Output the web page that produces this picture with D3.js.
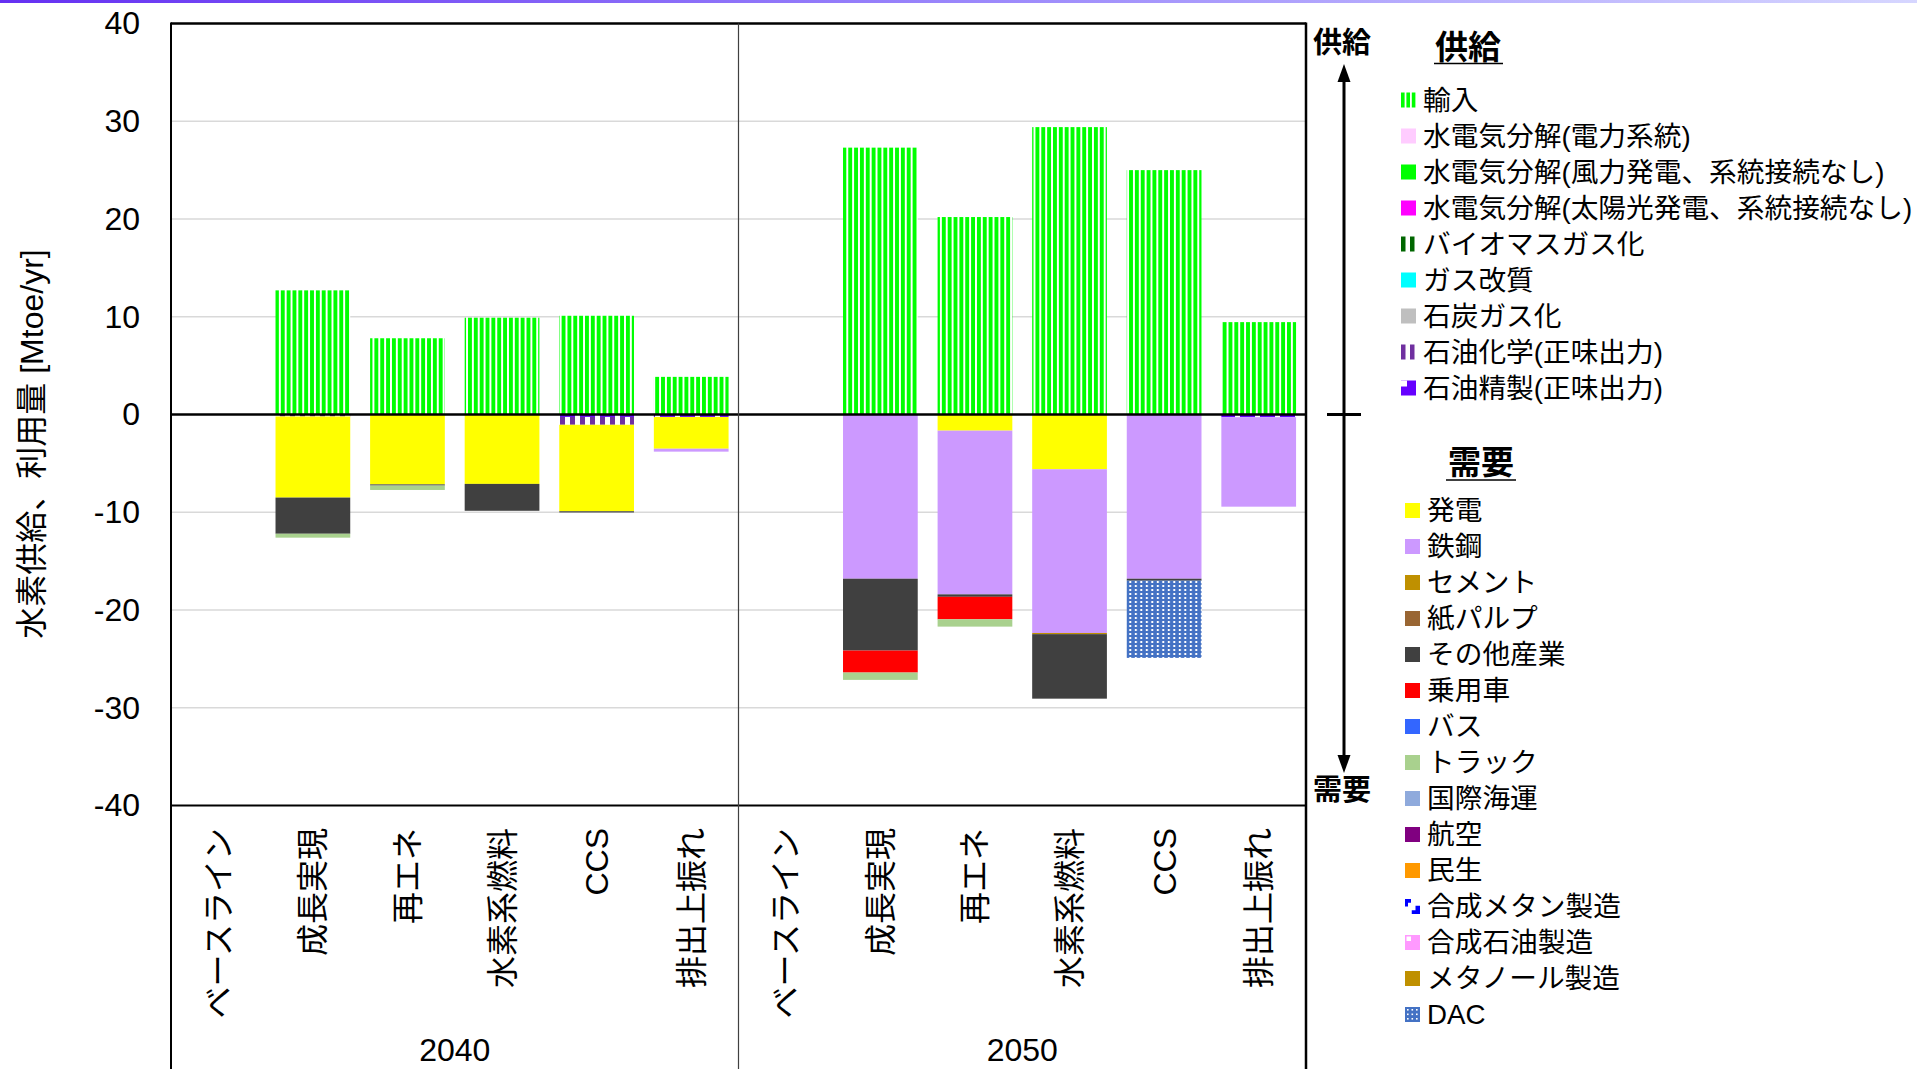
<!DOCTYPE html>
<html><head><meta charset="utf-8">
<script src="https://cdn.jsdelivr.net/npm/d3@7"></script>
<style>
html,body{margin:0;padding:0;background:#fff;}
svg{display:block;}
text{font-family:"Liberation Sans",Arial,"Noto Sans CJK JP",sans-serif;fill:#000;}
</style></head><body>
<svg id="chart" width="1917" height="1069"></svg>
<script>
// ---------- DATA ----------
const years = ["2040", "2050"];
const scenarios = ["ベースライン", "成長実現", "再エネ", "水素系燃料", "CCS", "排出上振れ"];
const yTicks = [40, 30, 20, 10, 0, -10, -20, -30, -40];

const supplyKeys = ["imports","elecGrid","elecWind","elecSolar","bioGas","gasReform","coalGas","petroChem","petroRefine"];
const supplyLabels = ["輸入","水電気分解(電力系統)","水電気分解(風力発電、系統接続なし)","水電気分解(太陽光発電、系統接続なし)","バイオマスガス化","ガス改質","石炭ガス化","石油化学(正味出力)","石油精製(正味出力)"];
const demandKeys = ["power","steel","cement","paper","otherInd","car","bus","truck","shipping","aviation","residential","synMethane","synOil","methanol","dac"];
const demandLabels = ["発電","鉄鋼","セメント","紙パルプ","その他産業","乗用車","バス","トラック","国際海運","航空","民生","合成メタン製造","合成石油製造","メタノール製造","DAC"];

// 12 columns: 2040 (6 scenarios), then 2050 (6 scenarios)
const imports     = [0, 12.7, 7.8, 9.9, 10.1, 3.85,   0, 27.3, 20.2, 29.4, 25.0, 9.45];
const elecGrid    = [0, 0, 0, 0, 0, 0,   0, 0, 0, 0, 0, 0];
const elecWind    = [0, 0, 0, 0, 0, 0,   0, 0, 0, 0, 0, 0];
const elecSolar   = [0, 0, 0, 0, 0, 0,   0, 0, 0, 0, 0, 0];
const bioGas      = [0, 0, 0, 0, 0, 0,   0, 0, 0, 0, 0, 0];
const gasReform   = [0, 0, 0, 0, 0, 0,   0, 0, 0, 0, 0, 0];
const coalGas     = [0, 0, 0, 0, 0, 0,   0, 0, 0, 0, 0, 0];
const petroChem   = [0, -0.2, 0, 0, -0.8, 0,   0, 0, 0, 0, 0, 0];
const petroRefine = [0, 0, 0, 0, -0.25, -0.25,   0, 0, 0, 0, 0, -0.28];
const power       = [0, -8.3, -7.15, -7.1, -8.85, -3.25,   0, 0, -1.65, -5.6, 0, 0];
const steel       = [0, 0, 0, 0, 0, -0.3,   0, -16.8, -16.75, -16.75, -16.8, -9.15];
const cement      = [0, 0, 0, 0, 0, 0,   0, 0, 0, -0.12, 0, 0];
const paper       = [0, 0, 0, 0, 0, 0,   0, 0, 0, 0, 0, 0];
const otherInd    = [0, -3.7, -0.12, -2.75, -0.12, 0,   0, -7.35, -0.25, -6.6, -0.2, 0];
const car         = [0, 0, 0, 0, 0, 0,   0, -2.25, -2.3, 0, 0, 0];
const bus         = [0, 0, 0, 0, 0, 0,   0, 0, 0, 0, 0, 0];
const truck       = [0, -0.4, -0.45, 0, 0, 0,   0, -0.75, -0.75, 0, 0, 0];
const shipping    = [0, 0, 0, 0, 0, 0,   0, 0, 0, 0, 0, 0];
const aviation    = [0, 0, 0, 0, 0, 0,   0, 0, 0, 0, 0, 0];
const residential = [0, 0, 0, 0, 0, 0,   0, 0, 0, 0, 0, 0];
const synMethane  = [0, 0, 0, 0, 0, 0,   0, 0, 0, 0, 0, 0];
const synOil      = [0, 0, 0, 0, 0, 0,   0, 0, 0, 0, 0, 0];
const methanol    = [0, 0, 0, 0, 0, 0,   0, 0, 0, 0, 0, 0];
const dac         = [0, 0, 0, 0, 0, 0,   0, 0, 0, 0, -7.9, 0];

const seriesValues = {imports, elecGrid, elecWind, elecSolar, bioGas, gasReform, coalGas, petroChem, petroRefine,
  power, steel, cement, paper, otherInd, car, bus, truck, shipping, aviation, residential, synMethane, synOil, methanol, dac};

// ---------- STYLE ----------
const fills = {
  imports:"url(#pImport)", elecGrid:"#ffccff", elecWind:"#00ff00", elecSolar:"#ff00ff",
  bioGas:"url(#pBio)", gasReform:"#00ffff", coalGas:"#bfbfbf", petroChem:"url(#pChem)", petroRefine:"url(#pRefine)",
  power:"#ffff00", steel:"#cc99ff", cement:"#bf9000", paper:"#996633", otherInd:"#404040", car:"#ff0000",
  bus:"#3366ff", truck:"#a9d18e", shipping:"#8faadc", aviation:"#800080", residential:"#ff9900",
  synMethane:"#0000ff", synOil:"#ff99ff", methanol:"#bf9000", dac:"url(#pDac)"
};
const baseColor = {imports:"#00ff00", bioGas:"#006600", petroChem:"#7030a0", petroRefine:"#6600ff", dac:"#4472c4"};

const W = 1917, H = 1069;
const svg = d3.select("#chart");
const defs = svg.append("defs");

// gradient top line
const grad = defs.append("linearGradient").attr("id","topGrad").attr("x1","0").attr("x2","1").attr("y1","0").attr("y2","0");
grad.append("stop").attr("offset","0").attr("stop-color","#6530f2");
grad.append("stop").attr("offset","0.5").attr("stop-color","#9a86fb");
grad.append("stop").attr("offset","1").attr("stop-color","#d6d6ff");
svg.append("rect").attr("x",0).attr("y",0).attr("width",W).attr("height",3).attr("fill","url(#topGrad)");

// patterns
function stripePattern(id, color, period, stripe) {
  const p = defs.append("pattern").attr("id",id).attr("patternUnits","userSpaceOnUse")
    .attr("width",period).attr("height",10);
  p.append("rect").attr("width",period).attr("height",10).attr("fill","#fff");
  p.append("rect").attr("width",stripe).attr("height",10).attr("fill",color);
}
stripePattern("pImport","#00ff00",5.85,3.9);
stripePattern("pBio","#006600",9,3.5);
stripePattern("pChem","#7030a0",10,5);
{
  const p = defs.append("pattern").attr("id","pRefine").attr("patternUnits","userSpaceOnUse").attr("width",20).attr("height",10);
  p.append("rect").attr("width",20).attr("height",10).attr("fill","#6600ff");
  p.append("rect").attr("x",15).attr("width",5).attr("height",10).attr("fill","#fff");
}
{
  const p = defs.append("pattern").attr("id","pDac").attr("patternUnits","userSpaceOnUse").attr("width",5.5).attr("height",4);
  p.append("rect").attr("width",5.5).attr("height",4).attr("fill","#4472c4");
  p.append("rect").attr("x",1.8).attr("y",1).attr("width",2).attr("height",2).attr("fill","#fff");
}

// ---------- SCALES ----------
const plotL = 171, plotR = 1306, plotT = 23.5, plotB = 805.5;
const y = d3.scaleLinear().domain([-40, 40]).range([plotB, plotT]);
const cols = d3.range(years.length * scenarios.length);
const x = d3.scaleBand().domain(cols).range([plotL, plotR]).paddingInner(0.21).paddingOuter(0.105);

// gridlines
svg.append("g").selectAll("line").data(yTicks.filter(t => t !== 0 && Math.abs(t) !== 40)).join("line")
  .attr("x1", plotL).attr("x2", plotR).attr("y1", d => y(d)).attr("y2", d => y(d))
  .attr("stroke", "#d9d9d9").attr("stroke-width", 1.5);

// ---------- STACK ----------
const stackOrder = ["imports","elecGrid","elecWind","elecSolar","bioGas","gasReform","coalGas","petroRefine","petroChem", ...demandKeys];
const table = cols.map(i => {
  const row = {col: i};
  stackOrder.forEach(k => row[k] = seriesValues[k][i]);
  return row;
});
const stacked = d3.stack().keys(stackOrder).offset(d3.stackOffsetDiverging)(table);

const barsG = svg.append("g");
stacked.forEach(layer => {
  barsG.append("g").attr("fill", fills[layer.key])
    .selectAll("rect").data(layer.filter(d => d[1] - d[0] !== 0)).join("rect")
    .attr("x", d => x(d.data.col))
    .attr("width", x.bandwidth())
    .attr("y", d => y(Math.max(d[0], d[1])))
    .attr("height", d => Math.abs(y(d[0]) - y(d[1])));
});

// zero line
svg.append("line").attr("x1", plotL).attr("x2", plotR).attr("y1", y(0)).attr("y2", y(0))
  .attr("stroke", "#000").attr("stroke-width", 2.5);

// frame
const divX = (x(5) + x.bandwidth() + x(6)) / 2;
svg.append("line").attr("x1", plotL).attr("x2", plotR).attr("y1", plotT).attr("y2", plotT).attr("stroke","#000").attr("stroke-width",2.5);
svg.append("line").attr("x1", plotL).attr("x2", plotR).attr("y1", plotB).attr("y2", plotB).attr("stroke","#000").attr("stroke-width",2);
svg.append("line").attr("x1", plotL).attr("x2", plotL).attr("y1", plotT - 1).attr("y2", H).attr("stroke","#000").attr("stroke-width",2);
svg.append("line").attr("x1", plotR).attr("x2", plotR).attr("y1", plotT - 1).attr("y2", H).attr("stroke","#000").attr("stroke-width",2.5);
svg.append("line").attr("x1", divX).attr("x2", divX).attr("y1", plotT).attr("y2", H).attr("stroke","#404040").attr("stroke-width",1.2);

// y axis
const yAxis = svg.append("g").attr("transform", `translate(${plotL},0)`)
  .call(d3.axisLeft(y).tickValues(yTicks).tickSize(0).tickPadding(31).tickFormat(d => String(d)));
yAxis.select(".domain").remove();
yAxis.selectAll("text").style("font-size","32px").attr("fill","#000")
  .style("font-family",'"Liberation Sans",Arial,sans-serif');

// y title
svg.append("text").attr("transform", "translate(32,444) rotate(-90)")
  .attr("text-anchor","middle").attr("dominant-baseline","central")
  .style("font-size","32px").text("水素供給、利用量 [Mtoe/yr]");

// x axis (category labels)
const xAxis = svg.append("g").attr("transform", `translate(0,${plotB})`)
  .call(d3.axisBottom(x).tickSize(0).tickFormat(i => scenarios[i % scenarios.length]));
xAxis.select(".domain").remove();
xAxis.selectAll("text")
  .attr("y", 0).attr("x", -22.5).attr("dy", "0.36em")
  .attr("transform", "rotate(-90)")
  .style("text-anchor", "end").style("font-size", "32px").attr("fill","#000")
  .style("font-family",'"Liberation Sans",Arial,"Noto Sans CJK JP",sans-serif');

// year labels
years.forEach((yr, gi) => {
  const first = x(gi * scenarios.length), last = x((gi + 1) * scenarios.length - 1) + x.bandwidth();
  svg.append("text").attr("x", (first + last) / 2).attr("y", 1061)
    .attr("text-anchor","middle").style("font-size","32px").text(yr);
});

// supply/demand arrow
const ax = 1344;
svg.append("line").attr("x1", ax).attr("x2", ax).attr("y1", 78).attr("y2", 760).attr("stroke","#000").attr("stroke-width",3);
svg.append("path").attr("d", `M${ax},64 L${ax-6.5},82 L${ax+6.5},82 Z`).attr("fill","#000");
svg.append("path").attr("d", `M${ax},773 L${ax-6.5},755 L${ax+6.5},755 Z`).attr("fill","#000");
svg.append("line").attr("x1", 1327).attr("x2", 1361).attr("y1", y(0)).attr("y2", y(0)).attr("stroke","#000").attr("stroke-width",3);
svg.append("text").attr("x", 1342).attr("y", 43).attr("text-anchor","middle").attr("dominant-baseline","central")
  .style("font-size","29px").style("font-weight","bold").text("供給");
svg.append("text").attr("x", 1342).attr("y", 790).attr("text-anchor","middle").attr("dominant-baseline","central")
  .style("font-size","29px").style("font-weight","bold").text("需要");

// ---------- LEGEND ----------
function legendTitle(txt, cx, cy, ux1, ux2, uy) {
  svg.append("text").attr("x", cx).attr("y", cy).attr("text-anchor","middle").attr("dominant-baseline","central")
    .style("font-size","33px").style("font-weight","bold").text(txt);
  svg.append("line").attr("x1", ux1).attr("x2", ux2).attr("y1", uy).attr("y2", uy).attr("stroke","#000").attr("stroke-width",1.5);
}
legendTitle("供給", 1468, 47, 1434, 1503, 63.5);
legendTitle("需要", 1481, 462, 1446, 1516, 480);

function drawIcon(g, key, size) {
  const f = fills[key];
  if (key === "petroRefine") {
    g.append("rect").attr("width",size).attr("height",size).attr("fill","#6600ff");
    g.append("rect").attr("width",size*0.4).attr("height",size*0.4).attr("fill","#fff");
  } else if (key === "synOil") {
    g.append("rect").attr("width",size).attr("height",size).attr("fill","#ff99ff");
    g.append("rect").attr("x",1.5).attr("y",1.5).attr("width",size*0.3).attr("height",size*0.3).attr("fill","#fff");
  } else if (key === "synMethane") {
    g.append("path").attr("d",`M0,0 H${size*0.4} V${size*0.25} H${size*0.2} V${size*0.5} H0 Z`).attr("fill","#0000ff");
    g.append("path").attr("d",`M${size},${size*0.45} V${size} H${size*0.45} V${size*0.75} H${size*0.7} V${size*0.45} Z`).attr("fill","#0000ff");
  } else if (key === "bioGas" || key === "petroChem") {
    g.append("rect").attr("width",size*0.3).attr("height",size).attr("fill",baseColor[key]);
    g.append("rect").attr("x",size*0.6).attr("width",size*0.3).attr("height",size).attr("fill",baseColor[key]);
  } else if (key === "imports") {
    [0, 0.36, 0.72].forEach(p => g.append("rect").attr("x",size*p).attr("width",size*0.24).attr("height",size).attr("fill","#00ff00"));
  } else if (key === "dac") {
    g.append("rect").attr("width",size).attr("height",size).attr("fill","#4472c4");
    [0.2,0.5,0.8].forEach(px => [0.2,0.5,0.8].forEach(py =>
      g.append("rect").attr("x",size*px-1).attr("y",size*py-1).attr("width",1.6).attr("height",1.6).attr("fill","#fff")));
  } else {
    g.append("rect").attr("width",size).attr("height",size).attr("fill",f);
  }
}

function legendBlock(keys, labels, iconX, textX, y0, step) {
  keys.forEach((k, i) => {
    const cy = y0 + i * step;
    const g = svg.append("g").attr("transform", `translate(${iconX},${cy - 7.5})`);
    drawIcon(g, k, 15);
    svg.append("text").attr("x", textX).attr("y", cy).attr("dominant-baseline","central")
      .style("font-size","27.7px").text(labels[i]);
  });
}
legendBlock(supplyKeys, supplyLabels, 1401, 1423, 100, 36);
legendBlock(demandKeys, demandLabels, 1405, 1427, 510.5, 36);
</script>
</body></html>
